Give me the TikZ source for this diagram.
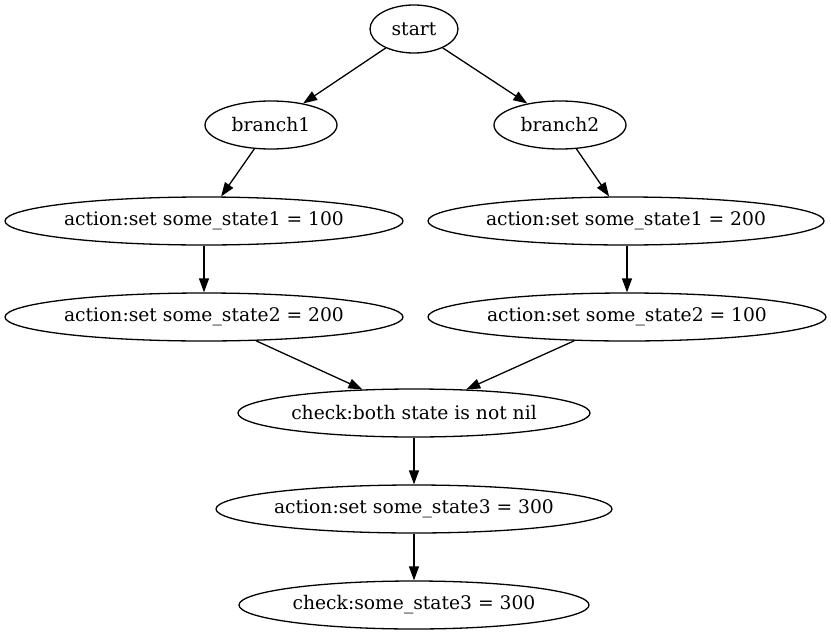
\documentclass[tikz,border=0pt]{standalone}
\usepackage{fontspec}
\setmainfont{DejaVu Serif}
\usetikzlibrary{shapes.geometric,arrows.meta}
\begin{document}
\begin{tikzpicture}[x=1pt,y=-1pt,
  gvnode/.style={draw,ellipse,inner sep=0pt,minimum height=48pt,line width=1.3pt,
    font=\fontsize{18.7}{22}\selectfont},
  gvedge/.style={line width=1.3pt,-{Triangle[length=14pt,width=10pt]}}]
\useasboundingbox (0,0) rectangle (831,635);
\node[gvnode,minimum width=88pt]  (start)   at (414,29)  {start};
\node[gvnode,minimum width=132pt] (b1)      at (271,125) {branch1};
\node[gvnode,minimum width=132pt] (b2)      at (560,125) {branch2};
\node[gvnode,minimum width=398pt] (a1l)     at (204,221) {action:set some\_state1 = 100};
\node[gvnode,minimum width=396pt] (a1r)     at (626,221) {action:set some\_state1 = 200};
\node[gvnode,minimum width=398pt] (a2l)     at (204,317) {action:set some\_state2 = 200};
\node[gvnode,minimum width=398pt] (a2r)     at (627,317) {action:set some\_state2 = 100};
\node[gvnode,minimum width=352pt] (check)   at (414,413) {check:both state is not nil};
\node[gvnode,minimum width=396pt] (a3)      at (414,509) {action:set some\_state3 = 300};
\node[gvnode,minimum width=350pt] (check2)  at (414,605) {check:some\_state3 = 300};
\draw[gvedge] (start) -- (b1);
\draw[gvedge] (start) -- (b2);
\draw[gvedge] (b1) -- (a1l);
\draw[gvedge] (b2) -- (a1r);
\draw[gvedge] (a1l) -- (a2l);
\draw[gvedge] (a1r.south -| a2r) -- (a2r);
\draw[gvedge] (a2l) -- (check);
\draw[gvedge] (a2r) -- (check);
\draw[gvedge] (check) -- (a3);
\draw[gvedge] (a3) -- (check2);
\end{tikzpicture}
\end{document}
